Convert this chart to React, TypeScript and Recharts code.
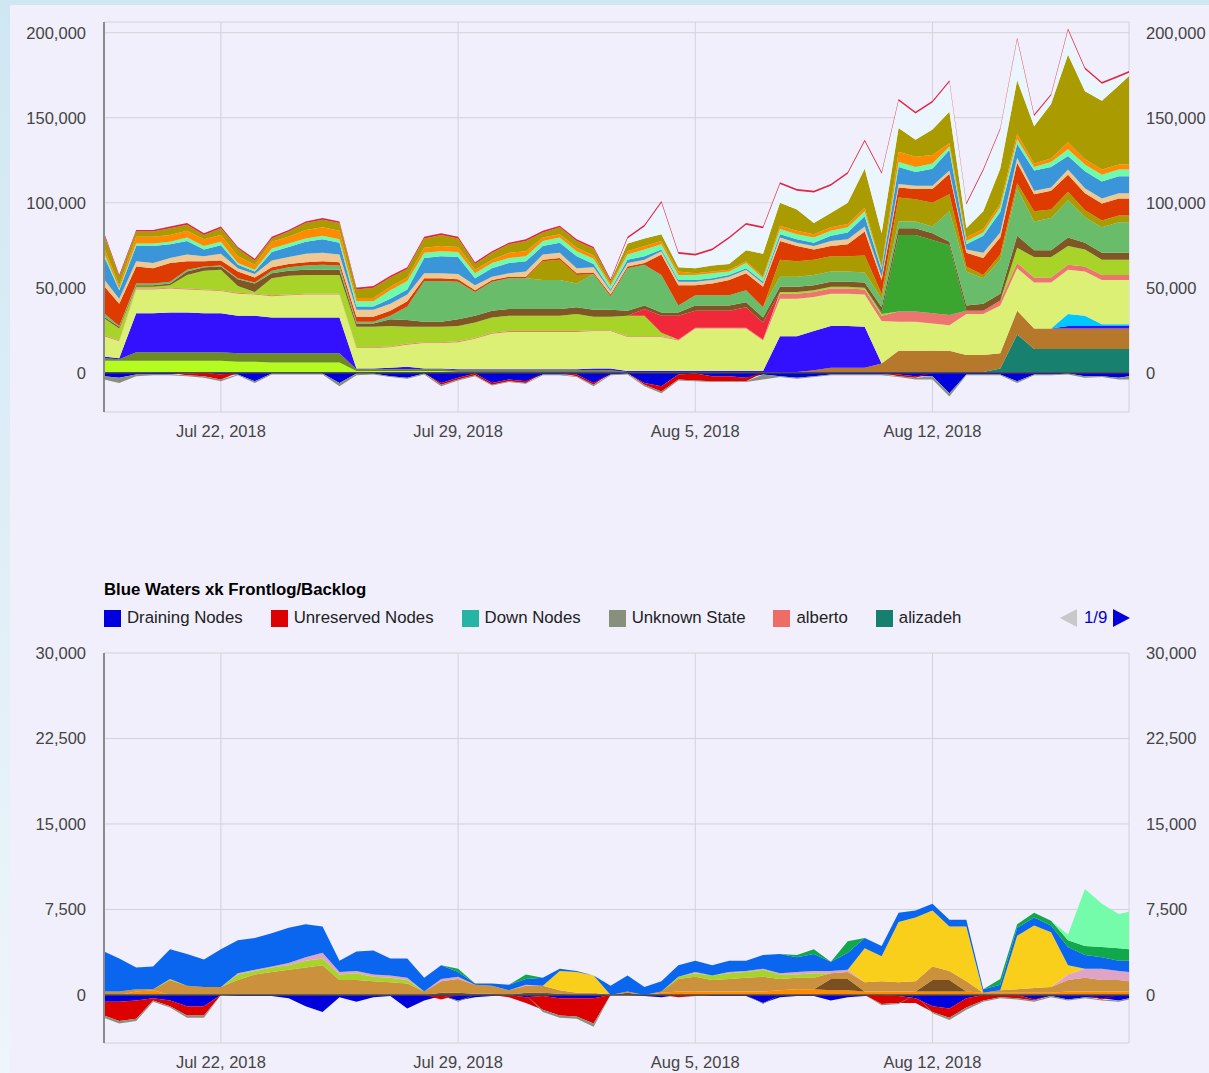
import { Area, AreaChart, CartesianGrid, ReferenceLine, XAxis, YAxis } from "recharts";

// x = days since Jul 18, 2018 00:00 (half-day samples)
const times = [
  0.55, 1, 1.5, 2, 2.5, 3, 3.5, 4, 4.5, 5,
  5.5, 6, 6.5, 7, 7.5, 8, 8.5, 9, 9.5, 10,
  10.5, 11, 11.5, 12, 12.5, 13, 13.5, 14, 14.5, 15,
  15.5, 16, 16.5, 17, 17.5, 18, 18.5, 19, 19.5, 20,
  20.5, 21, 21.5, 22, 22.5, 23, 23.5, 24, 24.5, 25,
  25.5, 26, 26.5, 27, 27.5, 28, 28.5, 29, 29.5, 30,
  30.5, 30.8,
];

const dateTicks = [4, 11, 18, 25];
const dateLabels = ["Jul 22, 2018", "Jul 29, 2018", "Aug 5, 2018", "Aug 12, 2018"];

const topTicks = [0, 50000, 100000, 150000, 200000];
const bottomTicks = [0, 7500, 15000, 22500, 30000];

// ---------- top chart (values in thousands) ----------
const topDraining = [
  -2, -3, -1, -1, -1, -0.5, 0, -1, -1, -5,
  -0.5, -0.5, -0.5, -0.5, -6, -0.5, -0.5, -2, -3, -0.5,
  -6, -3, -0.5, -6, -4, -5, -1, -1, -1, -6,
  -1, -0.5, -6, -8, -1, -0.5, -2, -2, -3, -1,
  -2, -3, -2, -1, -1, -1, -1, -1, -2, -2,
  -12, -1, -1, -1, -5, -1, -1, -0.5, -2, -2,
  -3, -2,
];
const topUnreserved = [
  0, 0, 0, 0, 0, -1, -2, -3, 0, 0,
  0, 0, 0, 0, 0, 0, 0, 0, 0, 0,
  -1, -1, -1, -1, -1, -1, 0, 0, -1, -1,
  0, 0, -1, -3, -3, -4, -3, -3, -2, 0,
  0, 0, 0, 0, 0, 0, 0, -1, -1, 0,
  0, 0, 0, 0, 0, 0, 0, 0, 0, 0,
  0, 0,
];
const topUnknown = [
  -2, -3, -1, -0.5, -0.5, -0.5, -1, -1, -0.5, -1,
  -0.5, -0.5, -0.5, -0.5, -2, -1, -0.5, -0.5, -0.5, -0.5,
  -1, -0.5, -0.5, -0.5, -0.5, -0.5, -0.5, -0.5, -0.5, -1,
  -0.5, -0.5, -1, -1, -0.5, -0.5, -0.5, -0.5, -0.5, -3,
  -0.5, -0.5, -0.5, -0.5, -0.5, -0.5, -0.5, -0.5, -1, -2,
  -2, -0.5, -0.5, -0.5, -1, -0.5, -0.5, -0.5, -1, -0.5,
  -1, -2,
];
const topLime = [
  7, 7, 7, 7, 7, 7, 7, 7, 6.5, 6.5,
  6, 6, 6, 6, 6, 1, 1, 1, 1, 1,
  1, 0.5, 0.5, 0.5, 0.5, 0.5, 0.5, 0.5, 0.5, 0.5,
  0.5, 0, 0, 0, 0, 0, 0, 0, 0, 0,
  0, 0, 0, 0, 0, 0, 0, 0, 0, 0,
  0, 0, 0, 0, 0, 0, 0, 0, 0, 0,
  0, 0,
];
const topDarkOlive = [
  1.5, 1, 5, 5, 5, 5, 5, 5, 5, 5,
  5.5, 5.5, 5.5, 5.5, 5.5, 1, 1, 1, 1, 1,
  1, 1, 1, 1, 1, 1, 1, 1, 1, 1,
  1, 0.5, 0.5, 0.5, 0.5, 0.5, 0.5, 0.5, 0.5, 0.5,
  0.5, 0.5, 0.5, 0.5, 0.5, 0.5, 0.5, 0.5, 0.5, 0.5,
  0.5, 0.5, 0.5, 0.5, 0.5, 0.5, 0.5, 0.5, 0.5, 0.5,
  0.5, 0.5,
];
const topTeal = [
  0, 0, 0, 0, 0, 0, 0, 0, 0, 0,
  0, 0, 0, 0, 0, 0, 0, 0, 0, 0,
  0, 0, 0, 0, 0, 0, 0, 0, 0, 0,
  0, 0, 0, 0, 0, 0, 0, 0, 0, 0,
  0, 0, 0, 0, 0, 0, 0, 0, 0, 0,
  0, 0, 0, 2, 22, 13.5, 13.5, 13.5, 13.5, 13.5,
  13.5, 13.5,
];
const topBrown = [
  0, 0, 0, 0, 0, 0, 0, 0, 0, 0,
  0, 0, 0, 0, 0, 0, 0, 0, 0, 0,
  0, 0, 0, 0, 0, 0, 0, 0, 0, 0,
  0, 0, 0, 0, 0, 0, 0, 0, 0, 0,
  0, 0, 1, 2.5, 2.5, 2.5, 5, 12.5, 12.5, 12.5,
  12.5, 10, 10, 9, 14, 12, 12, 12, 12, 12,
  12, 12,
];
const topViolet = [
  1, 0.5, 23, 23, 23.5, 23.5, 23, 23, 22, 22,
  21, 21, 21, 21, 21, 0.5, 0.5, 1, 1.5, 0.5,
  0.5, 0.5, 0.5, 0.5, 0.5, 0.5, 0.5, 0.5, 0.5, 1,
  1, 0.5, 0.5, 0.5, 0.5, 0.5, 0.5, 0.5, 0.5, 0.5,
  21, 21, 23, 24.5, 24.5, 24, 0, 0, 0, 0,
  0, 0, 0, 0, 0, 0, 0, 1.5, 1.5, 1.5,
  1.5, 1.5,
];
const topCyan = [
  0, 0, 0, 0, 0, 0, 0, 0, 0, 0,
  0, 0, 0, 0, 0, 0, 0, 0, 0, 0,
  0, 0, 0, 0, 0, 0, 0, 0, 0, 0,
  0, 0, 0, 0, 0, 0, 0, 0, 0, 0,
  0, 0, 0, 0, 0, 0, 0, 0, 0, 0,
  0, 0, 0, 0, 0, 0, 0, 7, 6, 1,
  1, 1,
];
const topPaleYellow = [
  12, 10, 14, 14, 14, 13.5, 13.5, 13, 13, 12.5,
  12.5, 13, 13.5, 13.5, 13.5, 12, 12, 12, 13, 15,
  15, 16, 18, 21, 22, 22, 22, 22, 22, 22,
  22, 20, 20, 20, 18, 25, 25, 25, 25, 18,
  22, 22, 20, 19, 19, 19, 25, 17, 17, 16,
  15, 24, 24, 28, 25, 27, 27, 26, 26, 26,
  26, 26,
];
const topSalmon = [
  0.5, 0.5, 0.5, 0.5, 0.5, 0.5, 0.5, 0.5, 0.5, 0.5,
  0.5, 0.5, 0.5, 0.5, 0.5, 0.5, 0.5, 0.5, 0.5, 0.5,
  0.5, 0.5, 0.5, 0.5, 0.5, 0.5, 0.5, 0.5, 0.5, 0.5,
  0.5, 0.5, 0.5, 0.5, 0.5, 0.5, 0.5, 0.5, 0.5, 0.5,
  3, 3, 3, 3, 3, 3, 3, 6, 6, 6,
  6, 2, 2, 3, 3, 3, 3, 3, 3, 3,
  3, 3,
];
const topYellowGreen = [
  10, 7, 1, 1, 1.5, 8, 11, 12, 4, 1,
  10, 11, 11, 11, 11, 12, 12, 12, 10, 9,
  9, 9, 9, 9, 9, 9, 9, 9, 10, 8,
  8, 12, 12, 2, 0, 0, 0, 0, 0, 0,
  1, 1, 1, 1, 1, 1, 1, 0, 0, 0,
  0, 0, 0, 0, 9, 12, 12, 11, 10, 9,
  9, 9,
];
const topRed = [
  0, 0, 0, 0, 0, 0, 0, 0, 0, 0,
  0, 0, 0, 0, 0, 0, 0, 0, 0, 0,
  0, 0, 0, 0, 0, 0, 0, 0, 0, 0,
  0, 0, 4, 10, 14, 10, 10, 10, 12, 10,
  0, 0, 0, 0, 0, 0, 0, 0, 0, 0,
  0, 0, 0, 0, 0, 0, 0, 0, 0, 0,
  0, 0,
];
const topGreen = [
  0, 0, 0, 0, 0, 0, 0, 0, 0, 0,
  0, 0, 0, 0, 0, 0, 0, 0, 0, 0,
  0, 0, 0, 0, 0, 0, 0, 0, 0, 0,
  0, 0, 0, 0, 0, 0, 0, 0, 0, 0,
  0, 0, 0, 0, 0, 0, 1, 45, 45, 43,
  41, 0, 0, 0, 0, 0, 0, 0, 0, 0,
  0, 0,
];
const topDarkBrown = [
  1, 1, 1, 1, 1, 2, 2, 2, 4, 5,
  3, 3, 3, 3, 3, 2, 2, 4, 4, 3,
  3, 4, 4, 4, 4, 4, 4, 4, 4, 4,
  4, 3, 2, 2, 2, 3, 3, 3, 3, 3,
  3, 3, 3, 3, 3, 3, 3, 4, 4, 4,
  2, 3, 4, 4, 7, 4, 4, 5, 4, 4,
  4, 4,
];
const topMidGreen = [
  2, 0.5, 1, 1, 1, 1, 0.5, 0.5, 0.5, 0.5,
  1.5, 2, 2.5, 3, 2.5, 1, 1, 2, 8, 24,
  24, 22, 14, 17, 18, 18, 17, 17, 14, 21,
  8, 25, 24, 22, 4, 6, 6, 6, 7, 6,
  6, 6, 6, 6, 6, 6, 5, 4, 4, 4,
  18, 20, 15, 20, 28, 17, 19, 22, 15, 15,
  18, 18,
];
const topOliveMid = [
  0, 0, 0, 0, 0, 0, 0, 0, 0, 0,
  0, 0, 0, 0, 0, 0, 0, 0, 0, 0,
  0, 0, 0, 0, 0, 0, 11, 12, 5, 0,
  0, 0, 0, 0, 0, 0, 0, 0, 0, 0,
  10, 9, 9, 9, 9, 10, 3, 14, 13, 14,
  10, 3, 2, 3, 3, 6, 5, 5, 4, 4,
  4, 4,
];
const topOrangeRed = [
  16, 13, 10, 9, 11, 5, 3, 3, 4, 3,
  2, 2, 2, 2, 2, 3, 3, 3, 3, 1.5,
  1.5, 1.5, 1, 1, 1, 1, 1, 1, 1, 1,
  1, 1, 1, 12, 12, 6, 7, 9, 10, 12,
  11, 9, 6, 6, 7, 14, 8, 6, 6, 8,
  12, 8, 10, 10, 12, 10, 11, 10, 10, 10,
  10, 10,
];
const topTan = [
  4, 3, 3, 3, 3, 4, 3, 4, 2, 2,
  4, 4, 5, 5, 4.5, 4, 4, 4, 4, 3,
  3, 3, 3, 2, 2, 3, 3, 3, 3, 3,
  2, 2, 2, 2, 2, 2, 2, 2, 2, 2,
  2, 2, 2, 3, 3, 3, 2, 2, 2, 2,
  2, 2, 3, 3, 3, 2, 2, 3, 3, 3,
  3, 3,
];
const topSteelBlue = [
  13.5, 5, 9, 10, 8, 8, 4, 5, 2, 1.5,
  5, 6, 7, 8, 7, 2, 2, 3, 3, 9,
  10, 10, 4, 5, 6, 6, 5, 6, 7, 2,
  1, 2, 2, 1, 1, 1, 1, 1, 1, 1,
  2, 2, 2, 3, 4, 6, 4, 10, 8, 10,
  12, 3, 10, 12, 8, 12, 12, 8, 10, 10,
  10, 10,
];
const topAqua = [
  2, 1, 1.5, 1.5, 1.5, 2, 2, 2, 1, 1,
  2, 2, 2, 2, 2, 3, 3, 5, 5, 3,
  3, 3, 3, 3, 3, 3, 3, 3, 3, 3,
  2, 3, 4, 3, 3, 3, 3, 2, 3, 2,
  3, 3, 3, 3, 3, 3, 1, 3, 3, 3,
  2, 2, 2, 3, 3, 2, 3, 4, 4, 4,
  4, 4,
];
const topOrange = [
  3, 2, 4, 4, 4, 4, 4, 4, 4, 3,
  4, 4, 5, 5, 5, 2, 2, 2, 2, 3,
  3, 3, 2, 2, 3, 3, 2, 2, 2, 2,
  1, 2, 2, 2, 2, 1, 1, 1, 1, 1,
  2, 2, 2, 2, 2, 2, 1, 6, 6, 5,
  2, 2, 2, 2, 3, 2, 2, 4, 3, 3,
  3, 3,
];
const topOlive = [
  8, 5, 3, 3, 4, 3.5, 2.5, 4, 4.5, 2.5,
  2, 3, 4, 4.5, 4.5, 5, 6, 5.5, 5, 5.5,
  6.5, 5, 3.5, 4, 5, 6, 3, 4, 4, 4,
  2, 4.5, 4.5, 4, 2.5, 3, 3.5, 3.5, 6.5, 13.5,
  13.5, 12.5, 6.5, 8.5, 12.5, 23, 19.5, 14, 10, 15,
  18.5, 5.5, 10.5, 20.5, 31.5, 22, 32, 51.5, 40, 40.5,
  46.5, 52,
];
const topPale = [
  0, 0, 0, 0, 0, 0, 0, 0, 0, 0,
  0, 0, 0, 0, 0, 0, 0, 0, 0, 0,
  0, 0, 0, 0, 0, 0, 0, 0, 0, 0,
  0, 3, 7, 18.5, 8, 7.5, 9, 15, 15, 15,
  11, 11, 18, 16, 17, 16, 35, 16, 15.5, 16,
  17.5, 14, 24, 23, 24, 6, 5, 14.5, 13, 10,
  5, 2,
];
const topEdge = [
  1, 1, 1, 1, 1, 1, 1, 1, 1, 1,
  1, 1, 1, 1, 1, 1, 1, 1, 1, 1,
  1, 1, 1, 1, 1, 1, 1, 1, 1, 1,
  1, 1, 1, 1, 1, 1, 1, 1, 1, 1,
  1, 1, 1, 1, 1, 1, 1, 1, 1, 1,
  1, 1, 1, 1, 1, 1, 1, 1, 1, 1,
  1, 1,
];

// ---------- bottom chart: Blue Waters xk (values in thousands) ----------
const xkDraining = [
  -0.6, -0.6, -0.5, -0.3, -0.5, -1, -1, 0, -0.1, -0.1,
  -0.1, -0.3, -1, -1.5, -0.2, -0.6, -0.2, -0.1, -1.2, -0.5,
  -0.1, -0.5, -0.2, -0.1, 0, -0.2, -0.1, -0.3, -0.3, -0.3,
  0, 0, -0.1, -0.2, 0, 0, -0.1, -0.1, -0.1, -0.7,
  -0.2, -0.1, -0.1, -0.5, -0.2, -0.1, 0, -0.1, -0.3, -1,
  -1.2, -0.3, 0, 0, 0, -0.4, -0.1, -0.4, -0.2, -0.3,
  -0.5, -0.3,
];
const xkUnreserved = [
  -1.2, -1.7, -1.6, -0.2, -0.5, -0.8, -0.8, 0, 0, 0,
  0, 0, 0, 0, 0, 0, 0, 0, 0, 0,
  -0.3, 0, 0, 0, -0.2, -0.5, -1.2, -1.5, -1.6, -2.2,
  0, 0, 0, 0, -0.2, -0.1, 0, 0, 0, 0,
  0, 0, 0, 0, 0, 0, -0.8, -0.6, -0.4, -0.5,
  -0.8, -0.8, -0.5, -0.2, -0.3, -0.1, 0, 0, 0, -0.1,
  0, 0,
];
const xkUnknown = [
  -0.2, -0.2, -0.2, -0.1, -0.1, -0.2, -0.2, 0, 0, 0,
  0, 0, 0, 0, 0, 0, 0, 0, 0, 0,
  0, -0.1, 0, 0, 0, 0, -0.2, -0.2, -0.2, -0.3,
  0, 0, 0, 0, 0, 0, 0, 0, 0, -0.1,
  0, 0, 0, 0, 0, 0, -0.1, -0.1, 0, -0.1,
  -0.2, -0.2, -0.1, -0.1, -0.1, -0.1, -0.1, -0.1, -0.1, -0.1,
  -0.1, -0.1,
];
const xkOrange = [
  0, 0, 0.3, 0.4, 0, 0, 0, 0, 0, 0,
  0, 0, 0, 0, 0, 0, 0, 0, 0, 0,
  0, 0, 0, 0, 0, 0, 0, 0, 0, 0,
  0, 0, 0, 0.2, 0.3, 0.3, 0.3, 0.3, 0.3, 0.3,
  0.4, 0.5, 0.5, 0.4, 0.4, 0.3, 0.3, 0.3, 0.3, 0.3,
  0.3, 0.3, 0.2, 0.2, 0.2, 0.2, 0.2, 0.3, 0.3, 0.3,
  0.3, 0.3,
];
const xkDarkBrown = [
  0, 0, 0, 0, 0, 0, 0, 0, 0, 0,
  0, 0, 0, 0, 0, 0, 0, 0, 0, 0,
  0.2, 0.2, 0.1, 0.1, 0, 0.2, 0.2, 0.1, 0, 0,
  0, 0.2, 0, 0, 0, 0, 0, 0, 0, 0,
  0, 0, 0, 1, 1, 0, 0, 0, 0, 1,
  1, 0, 0, 0, 0, 0, 0, 0, 0, 0,
  0, 0,
];
const xkOchre = [
  0.3, 0.3, 0.2, 0.1, 1.3, 0.8, 0.7, 0.7, 1.3, 1.8,
  2, 2.2, 2.4, 2.6, 1.3, 1.3, 1.2, 1.1, 1, 0.3,
  1, 1.2, 0.8, 0.7, 0.4, 0.6, 0.6, 0.3, 0.2, 0.2,
  0, 0.1, 0, 0.1, 1.1, 1.3, 1, 1.1, 1.2, 1.3,
  1, 1, 1, 0.5, 0.6, 0.8, 0.9, 0.8, 0.9, 1.2,
  0.8, 0.9, 0, 0.2, 0.3, 0.4, 0.5, 1, 1.2, 1,
  1, 0.9,
];
const xkYellowGreen = [
  0, 0, 0, 0, 0.1, 0, 0, 0, 0.5, 0.3,
  0.4, 0.4, 0.6, 0.6, 0.5, 0.6, 0.4, 0.4, 0.3, 0,
  0, 0, 0, 0, 0, 0, 0, 0, 0, 0,
  0, 0, 0, 0, 0.2, 0.3, 0.4, 0.5, 0.5, 0.6,
  0.4, 0.3, 0.4, 0, 0, 0, 0, 0, 0, 0,
  0, 0, 0, 0, 0, 0, 0, 0, 0, 0,
  0, 0,
];
const xkPink = [
  0, 0, 0, 0, 0, 0, 0, 0, 0.1, 0.1,
  0.1, 0.2, 0.3, 0.5, 0.2, 0.2, 0.2, 0.2, 0.2, 0,
  0.2, 0.2, 0, 0, 0, 0.1, 0, 0, 0, 0,
  0, 0, 0, 0, 0, 0.1, 0, 0.1, 0.1, 0.1,
  0.1, 0.2, 0.2, 0.2, 0.2, 0, 0, 0, 0, 0,
  0, 0, 0, 0, 0, 0, 0, 0.5, 0.8, 1,
  0.8, 0.8,
];
const xkYellow = [
  0, 0, 0, 0, 0, 0, 0, 0, 0, 0,
  0, 0, 0, 0, 0, 0, 0, 0, 0, 0,
  0, 0, 0, 0, 0, 0, 0, 1.7, 1.8, 1.5,
  0, 0, 0, 0, 0, 0, 0, 0, 0, 0,
  0, 0, 0, 0, 0, 3, 2.2, 5.3, 5.6, 4.9,
  3.9, 4.8, 0, 0, 4.7, 5.5, 4.8, 0.8, 0, 0,
  0, 0,
];
const xkBlue = [
  3.5, 2.9, 1.9, 2, 2.6, 2.8, 2.4, 3.3, 2.9, 2.8,
  2.9, 3.1, 2.9, 2.3, 1, 1.7, 2.1, 1.5, 1.7, 1.2,
  1.2, 0.4, 0.1, 0.2, 0.5, 0.5, 0.7, 0.2, 0.1, 0,
  0.8, 1.4, 0.7, 0.9, 1, 1, 0.9, 1, 0.9, 1.2,
  1.7, 1.3, 1.5, 0.8, 1.5, 0.9, 0.9, 0.8, 0.6, 0.6,
  0.6, 0.6, 0.3, 0.5, 0.7, 0.7, 0.6, 1.6, 1.2, 1,
  0.9, 1,
];
const xkGreen = [
  0, 0, 0, 0, 0, 0, 0, 0, 0, 0,
  0, 0, 0, 0, 0, 0, 0, 0, 0, 0,
  0, 0.3, 0, 0, 0, 0.4, 0, 0, 0, 0,
  0, 0, 0, 0, 0, 0, 0, 0, 0, 0,
  0, 0.2, 0.4, 0, 1, 0, 0, 0, 0, 0,
  0, 0, 0, 0.5, 0.3, 0.4, 0.4, 0.6, 0.8, 0.9,
  1.1, 1,
];
const xkAqua = [
  0, 0, 0, 0, 0, 0, 0, 0, 0, 0,
  0, 0, 0, 0, 0, 0, 0, 0, 0, 0,
  0, 0, 0, 0, 0, 0, 0, 0, 0, 0,
  0, 0, 0, 0, 0, 0, 0, 0, 0, 0,
  0, 0, 0, 0, 0, 0, 0, 0, 0, 0,
  0, 0, 0, 0, 0, 0, 0, 0.5, 5, 3.8,
  3, 3.3,
];

const legendNames = ["Draining Nodes", "Unreserved Nodes", "Down Nodes", "Unknown State", "alberto", "alizadeh"];
const legendColors = ["#0000dd", "#dd0000", "#26b5a5", "#888f7a", "#ee6c66", "#177f6e"];

type Layer = { key: string; color: string; values: number[] };

// negatives first so they sit right under the zero line
const topLayers: Layer[] = [
  { key: "draining", color: "#0000dd", values: topDraining },
  { key: "unreserved", color: "#dd0000", values: topUnreserved },
  { key: "unknown", color: "#8a9080", values: topUnknown },
  { key: "lime", color: "#b4fc20", values: topLime },
  { key: "darkOlive", color: "#6b8b22", values: topDarkOlive },
  { key: "teal", color: "#17806f", values: topTeal },
  { key: "brown", color: "#b6782a", values: topBrown },
  { key: "violet", color: "#3311ff", values: topViolet },
  { key: "cyan", color: "#00c8ff", values: topCyan },
  { key: "paleYellow", color: "#dcf076", values: topPaleYellow },
  { key: "salmon", color: "#ee7470", values: topSalmon },
  { key: "yellowGreen", color: "#a8d42a", values: topYellowGreen },
  { key: "red", color: "#f0283a", values: topRed },
  { key: "green", color: "#3aa52f", values: topGreen },
  { key: "darkBrown", color: "#7f5725", values: topDarkBrown },
  { key: "midGreen", color: "#68bc6a", values: topMidGreen },
  { key: "oliveMid", color: "#a99b00", values: topOliveMid },
  { key: "orangeRed", color: "#dd3b00", values: topOrangeRed },
  { key: "tan", color: "#efc991", values: topTan },
  { key: "steelBlue", color: "#3a96d8", values: topSteelBlue },
  { key: "aqua", color: "#6dfcab", values: topAqua },
  { key: "orange", color: "#ff8c00", values: topOrange },
  { key: "olive", color: "#a99b00", values: topOlive },
  { key: "pale", color: "#ebf5fd", values: topPale },
  { key: "edge", color: "#e5213f", values: topEdge },
];

const xkLayers: Layer[] = [
  { key: "draining", color: "#0000dd", values: xkDraining },
  { key: "unreserved", color: "#dd0000", values: xkUnreserved },
  { key: "unknown", color: "#8a9080", values: xkUnknown },
  { key: "orange", color: "#ff8a00", values: xkOrange },
  { key: "darkBrown", color: "#7a5020", values: xkDarkBrown },
  { key: "ochre", color: "#cc913c", values: xkOchre },
  { key: "yellowGreen", color: "#a8d42a", values: xkYellowGreen },
  { key: "pink", color: "#dfa3c6", values: xkPink },
  { key: "yellow", color: "#f9cf1c", values: xkYellow },
  { key: "blue", color: "#0a66ee", values: xkBlue },
  { key: "green", color: "#10a84a", values: xkGreen },
  { key: "aqua", color: "#74fcaa", values: xkAqua },
];

function toRows(layers: Layer[]) {
  return times.map((t, i) => {
    const row: Record<string, number> = { t };
    for (const l of layers) row[l.key] = l.values[i] * 1000;
    return row;
  });
}

const FONT = '"Liberation Sans", Arial, Helvetica, sans-serif';
const tickStyle = { fontSize: 16.5, fill: "#444", fontFamily: FONT };
const fmt = (v: number) => v.toLocaleString("en-US");

function StackedPanel({
  layers,
  ticks,
  domain,
  height,
  marginTop,
  axisHeight,
}: {
  layers: Layer[];
  ticks: number[];
  domain: [number, number];
  height: number;
  marginTop: number;
  axisHeight: number;
}) {
  const rows = toRows(layers);
  return (
    <AreaChart
      width={1209}
      height={height}
      data={rows}
      stackOffset="sign"
      margin={{ top: marginTop, right: 0, bottom: 0, left: 0 }}
    >
      <CartesianGrid stroke="#d2d2d8" />
      <XAxis
        type="number"
        dataKey="t"
        domain={[0.55, 30.8]}
        ticks={dateTicks}
        interval={0}
        allowDataOverflow
        tickFormatter={(v) => dateLabels[dateTicks.indexOf(v)]}
        axisLine={false}
        tickLine={false}
        tickSize={0}
        tickMargin={13}
        height={axisHeight}
        tick={tickStyle}
      />
      <YAxis
        type="number"
        domain={domain}
        ticks={ticks}
        interval={0}
        allowDataOverflow
        width={104}
        axisLine={{ stroke: "#8a8a8a", strokeWidth: 2 }}
        tickLine={false}
        tickSize={0}
        tickMargin={18}
        tick={tickStyle}
        tickFormatter={fmt}
      />
      <YAxis
        yAxisId="right"
        orientation="right"
        type="number"
        domain={domain}
        ticks={ticks}
        interval={0}
        allowDataOverflow
        width={80}
        axisLine={false}
        tickLine={false}
        tickSize={0}
        tickMargin={17}
        tick={tickStyle}
        tickFormatter={fmt}
      />
      {layers.map((l) => (
        <Area
          key={l.key}
          type="linear"
          dataKey={l.key}
          stackId="s"
          stroke="none"
          fill={l.color}
          fillOpacity={1}
          dot={false}
          activeDot={false}
          isAnimationActive={false}
        />
      ))}
      <ReferenceLine y={0} stroke="#4d4d4d" strokeWidth={1.5} />
    </AreaChart>
  );
}

function Pager() {
  return (
    <div style={{ position: "absolute", left: 1060, top: 609, display: "flex", alignItems: "center", height: 18 }}>
      <svg width={18} height={18}>
        <polygon points="17,0 17,18 0,9" fill="#c8c8c8" />
      </svg>
      <span style={{ color: "#0000cc", fontSize: 16.8, margin: "0 6px 0 6px", lineHeight: "18px" }}>1/9</span>
      <svg width={18} height={18}>
        <polygon points="0,0 0,18 17,9" fill="#0000dd" />
      </svg>
    </div>
  );
}

export default function App() {
  return (
    <div
      style={{
        position: "relative",
        width: 1209,
        height: 1073,
        overflow: "hidden",
        background: "linear-gradient(#cfe7f3, #eef5fb)",
        fontFamily: FONT,
      }}
    >
      <style>{"body{margin:0}"}</style>
      <div style={{ position: "absolute", left: 10, top: 5, right: 0, bottom: 0, background: "#f0effb" }} />

      <div style={{ position: "absolute", left: 0, top: 0 }}>
        <StackedPanel layers={topLayers} ticks={topTicks} domain={[-23100, 206300]} height={450} marginTop={22} axisHeight={38} />
      </div>

      <div style={{ position: "absolute", left: 104, top: 580, fontSize: 16.8, fontWeight: "bold", color: "#000", lineHeight: "20px" }}>
        Blue Waters xk Frontlog/Backlog
      </div>
      <div style={{ position: "absolute", left: 104, top: 608, display: "flex", gap: 28, alignItems: "center" }}>
        {legendNames.map((name, i) => (
          <div key={name} style={{ display: "flex", alignItems: "center" }}>
            <div style={{ width: 17, height: 17, background: legendColors[i], marginRight: 6 }} />
            <span style={{ fontSize: 16.8, color: "#222", lineHeight: "20px" }}>{name}</span>
          </div>
        ))}
      </div>
      <Pager />

      <div style={{ position: "absolute", left: 0, top: 640 }}>
        <StackedPanel layers={xkLayers} ticks={bottomTicks} domain={[-4220, 30000]} height={433} marginTop={13} axisHeight={30} />
      </div>
    </div>
  );
}
